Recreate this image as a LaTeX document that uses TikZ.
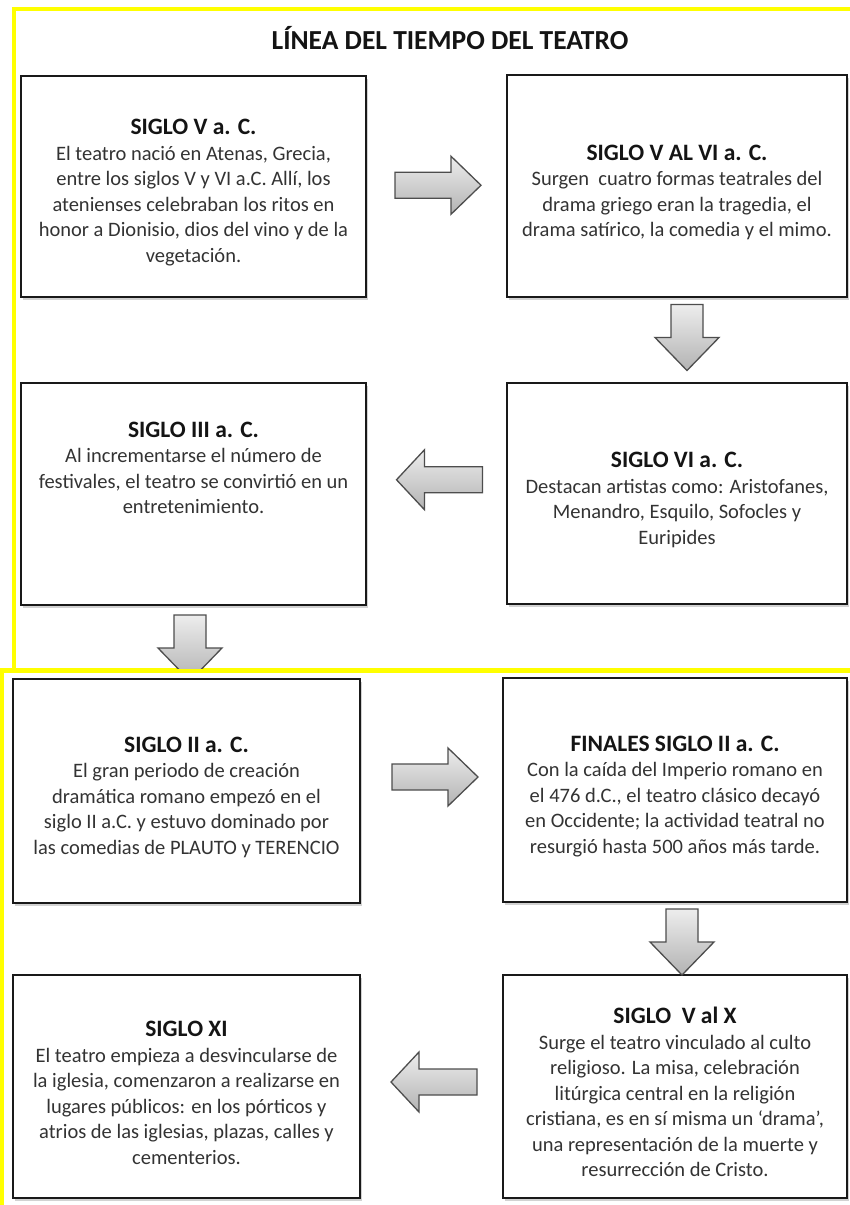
\documentclass[tikz,border=0pt]{standalone}
\usepackage{fontspec}
\setmainfont{Carlito}
\usetikzlibrary{calc,shadows}
\definecolor{bodytxt}{HTML}{333333}
\definecolor{headtxt}{HTML}{141414}
\definecolor{arrline}{HTML}{4D4D4D}
\definecolor{hiyellow}{RGB}{255,255,0}
\newcommand{\boxhead}[1]{{\fontsize{23.5}{26}\selectfont\bfseries\color{headtxt}\rule{0pt}{28pt}#1}}
\begin{document}
\begin{tikzpicture}[x=1pt,y=-1pt,
  tbox/.style={draw=black!90, line width=2.8pt, fill=white, align=center, inner sep=0pt,
    text=bodytxt, font=\fontsize{20.5}{25.5}\selectfont,
    drop shadow={shadow xshift=2pt, shadow yshift=-2.5pt, opacity=0.35}},
  barrow/.style={draw=arrline, line width=1.3pt, line join=miter, top color=black!7, bottom color=black!30},
  hiline/.style={draw=hiyellow, line width=4.2pt},
  pics/rightarrow/.style={code={\path[barrow] (-43,-13) -- (13,-13) -- (13,-29) -- (43,0) -- (13,29) -- (13,13) -- (-43,13) -- cycle;}},
  pics/leftarrow/.style={code={\path[barrow] (43,-13) -- (-15,-13) -- (-15,-30) -- (-43,0) -- (-15,30) -- (-15,13) -- (43,13) -- cycle;}},
  pics/downarrow/.style={code={\path[barrow] (-16,-33) -- (16,-33) -- (16,0) -- (32,0) -- (0,33) -- (-32,0) -- (-16,0) -- cycle;}}
]
\useasboundingbox[fill=white] (0,0) rectangle (849,1205);

% upper yellow frame
\draw[hiline] (14,672) -- (14,9) -- (860,9);

\node[font=\fontsize{27.5}{30}\selectfont\bfseries, text=headtxt] (title) at (450,38) {LÍNEA DEL TIEMPO DEL TEATRO};

\node[tbox, minimum width=345pt, minimum height=221pt] (b1) at (193.5,186.5) {\boxhead{SIGLO V a. C.}\\
El teatro nació en Atenas, Grecia,\\
entre los siglos V y VI a.C. Allí, los\\
atenienses celebraban los ritos en\\
honor a Dionisio, dios del vino y de la\\
vegetación.};

\node[tbox, minimum width=340pt, minimum height=222pt] (b2) at (677,186) {\boxhead{SIGLO V AL VI a. C.}\\
Surgen\ \ cuatro formas teatrales del\\
drama griego eran la tragedia, el\\
drama satírico, la comedia y el mimo.};

\node[tbox, minimum width=345pt, minimum height=222pt] (b3) at (193.5,494) {\boxhead{SIGLO III a. C.}\\
Al incrementarse el número de\\
festivales, el teatro se convirtió en un\\
entretenimiento.\\
\mbox{}\\[14pt]
\mbox{}};

\node[tbox, minimum width=340pt, minimum height=221pt] (b4) at (677,493.5) {\boxhead{SIGLO VI a. C.}\\
Destacan artistas como: Aristofanes,\\
Menandro, Esquilo, Sofocles y\\
Euripides};

% arrows of upper part
\pic at ($(b1.east)!0.5!(b2.west)+(1.5,-1)$) {rightarrow};
\pic at ($(b2.south)!0.5!(b4.north)+(10,-2.5)$) {downarrow};
\pic at ($(b4.west)!0.5!(b3.east)+(3,-14)$) {leftarrow};

% lower yellow frame
\draw[hiline] (2,1215) -- (2,670.5) -- (860,670.5);

\node[tbox, minimum width=347pt, minimum height=224pt] (b5) at (186.5,791) {\boxhead{SIGLO II a. C.}\\
El gran periodo de creación\\
dramática romano empezó en el\\
siglo II a.C. y estuvo dominado por\\
las comedias de PLAUTO y TERENCIO};

\begin{scope}
\clip (0,0) rectangle (849,668.3);
\pic at ($(b3.south)!0.5!(b5.north)+(0,6)$) {downarrow};
\end{scope}

\node[tbox, minimum width=344pt, minimum height=224pt] (b6) at (675,790) {\boxhead{FINALES SIGLO II a. C.}\\
Con la caída del Imperio romano en\\
el 476 d.C., el teatro clásico decayó\\
en Occidente; la actividad teatral no\\
resurgió hasta 500 años más tarde.};

\node[tbox, minimum width=347pt, minimum height=223pt] (b7) at (186.5,1086.5) {\boxhead{SIGLO XI}\\
El teatro empieza a desvincularse de\\
la iglesia, comenzaron a realizarse en\\
lugares públicos: en los pórticos y\\
atrios de las iglesias, plazas, calles y\\
cementerios.};

\node[tbox, minimum width=344pt, minimum height=223pt] (b8) at (675,1086.5) {\boxhead{SIGLO\ \ V al X}\\
Surge el teatro vinculado al culto\\
religioso. La misa, celebración\\
litúrgica central en la religión\\
cristiana, es en sí misma un ‘drama’,\\
una representación de la muerte y\\
resurrección de Cristo.};

% arrows of lower part
\pic at ($(b5.east)!0.5!(b6.west)+(3.5,-13.5)$) {rightarrow};
\pic at ($(b6.south)!0.5!(b8.north)+(7,3.5)$) {downarrow};
\pic at ($(b8.west)!0.5!(b7.east)+(2.5,-4.5)$) {leftarrow};
\end{tikzpicture}
\end{document}
